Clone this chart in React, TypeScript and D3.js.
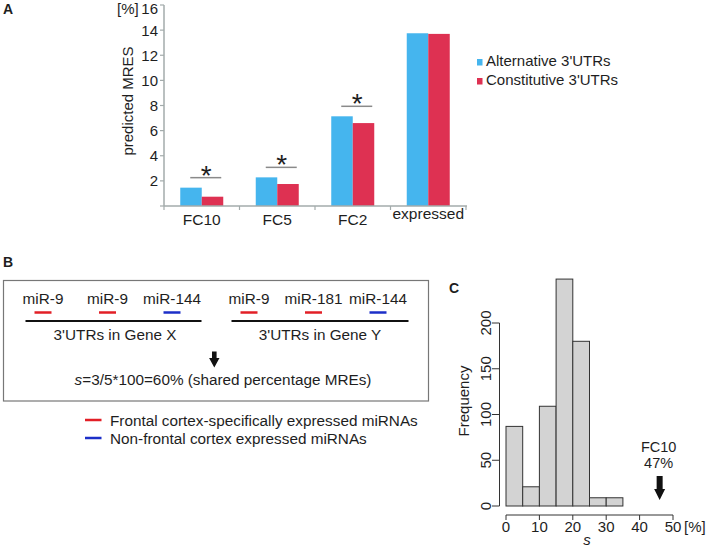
import React from "react";
import * as d3 from "d3";

// ---------- Panel A data ----------
const categories = ["FC10", "FC5", "FC2", "expressed"];
const alternative = [1.46, 2.28, 7.14, 13.75];
const constitutive = [0.74, 1.75, 6.6, 13.7];
const significant = [true, true, true, false];
const yTicksA = [2, 4, 6, 8, 10, 12, 14, 16];
const seriesNames = ["Alternative 3'UTRs", "Constitutive 3'UTRs"];

// ---------- Panel B data ----------
const geneXSites = ["miR-9", "miR-9", "miR-144"];
const geneXFrontal = [true, true, false];
const geneYSites = ["miR-9", "miR-181", "miR-144"];
const geneYFrontal = [true, true, false];
const legendB = ["Frontal cortex-specifically expressed miRNAs", "Non-frontal cortex expressed miRNAs"];

// ---------- Panel C data ----------
const binEdges = [0, 5, 10, 15, 20, 25, 30, 35];
const binCounts = [87, 21, 109, 248, 180, 9, 9];
const xTicksC = [0, 10, 20, 30, 40, 50];
const yTicksC = [0, 50, 100, 150, 200];
const markerValue = 46;

const BLUE = "#45b5ee";
const RED = "#de3152";
const TXT = "#1e1e1e";
const AX = "#a3abab";
const FONT = "'Liberation Sans', Arial, sans-serif";
const FSB = 15.3;

export default function App() {
  // Panel A scales
  const xA = d3.scaleBand().domain(categories).range([164, 466]).paddingInner(0).paddingOuter(0);
  const yA = d3.scaleLinear().domain([0, 16]).range([206, 5]);
  const barW = 21.5;

  // Panel C scales
  const xC = d3.scaleLinear().domain([0, 50]).range([506, 673]);
  const yC = d3.scaleLinear().domain([0, 200]).range([506, 323]);

  // Panel B positions via scale for site dashes
  const geneX = d3.scaleLinear().domain([0, 2]).range([43, 172]);
  const geneY = d3.scaleLinear().domain([0, 2]).range([249, 378]);

  return (
    <svg
      width={708}
      height={547}
      style={{ position: "absolute", left: 0, top: 0, background: "#fff" }}
      fontFamily={FONT}
    >
      <rect width={708} height={547} fill="#fff" />
      {/* Panel labels */}
      <text x={3} y={14} fontSize={14} fontWeight="bold" fill={TXT}>A</text>
      <text x={3} y={267} fontSize={14} fontWeight="bold" fill={TXT}>B</text>
      <text x={449} y={293} fontSize={14} fontWeight="bold" fill={TXT}>C</text>

      {/* ===== Panel A ===== */}
      {categories.map((c, i) => {
        const x0 = (xA(c) as number) + xA.bandwidth() / 2;
        const lineY = yA(Math.max(alternative[i], constitutive[i])) - 10;
        return (
          <g key={c}>
            <rect x={x0 - barW} y={yA(alternative[i])} width={barW} height={yA(0) - yA(alternative[i])} fill={BLUE} />
            <rect x={x0} y={yA(constitutive[i])} width={barW} height={yA(0) - yA(constitutive[i])} fill={RED} />
            {significant[i] && (
              <g>
                <line x1={x0 + 4 - 15.5} x2={x0 + 4 + 15.5} y1={lineY} y2={lineY} stroke="#8a8a8a" strokeWidth={1.5} />
                <text x={x0 + 4.5} y={lineY + 7} fontSize={28} textAnchor="middle" fill={TXT}>*</text>
              </g>
            )}
            <text
              x={x0}
              y={i === categories.length - 1 ? 219 : 225}
              fontSize={15.5}
              textAnchor="middle"
              fill={TXT}
            >{c}</text>
          </g>
        );
      })}
      {/* axes A */}
      <line x1={164} x2={164} y1={yA(16)} y2={yA(0)} stroke={AX} strokeWidth={1.5} />
      <line x1={164} x2={467} y1={yA(0)} y2={yA(0)} stroke={AX} strokeWidth={1.5} />
      {[0, ...yTicksA].map((t) => (
        <line key={"yt" + t} x1={160} x2={164} y1={yA(t)} y2={yA(t)} stroke={AX} strokeWidth={1.2} />
      ))}
      {d3.range(categories.length + 1).map((i) => (
        <line key={"xt" + i} x1={164 + i * xA.bandwidth()} x2={164 + i * xA.bandwidth()} y1={206} y2={210} stroke={AX} strokeWidth={1.2} />
      ))}
      {yTicksA.map((t) => (
        <text key={"yl" + t} x={158} y={yA(t) + (t === 16 ? 8.5 : 5.5)} fontSize={15} textAnchor="end" fill={TXT}>{t}</text>
      ))}
      <text x={117} y={yA(16) + 8.5} fontSize={15} fill={TXT}>[%]</text>
      <text transform="translate(133,101) rotate(-90)" fontSize={15} textAnchor="middle" fill={TXT}>predicted MRES</text>
      {/* legend A */}
      {seriesNames.map((s, i) => (
        <g key={s}>
          <rect x={477} y={59 + i * 19} width={5.5} height={6.5} fill={i === 0 ? BLUE : RED} />
          <text x={486} y={66 + i * 19} fontSize={15} fill={TXT}>{s}</text>
        </g>
      ))}

      {/* ===== Panel B ===== */}
      <rect x={3.5} y={280.5} width={425} height={120.5} fill="none" stroke="#777" strokeWidth={1.2} />
      {geneXSites.map((s, i) => (
        <g key={"gx" + i}>
          <text x={geneX(i)} y={304} fontSize={FSB} textAnchor="middle" fill={TXT}>{s}</text>
          <line x1={geneX(i) - 8.5} x2={geneX(i) + 8.5} y1={312.5} y2={312.5} stroke={geneXFrontal[i] ? "#e21f26" : "#1c2fc8"} strokeWidth={2.5} />
        </g>
      ))}
      {geneYSites.map((s, i) => (
        <g key={"gy" + i}>
          <text x={geneY(i)} y={304} fontSize={FSB} textAnchor="middle" fill={TXT}>{s}</text>
          <line x1={geneY(i) - 8.5} x2={geneY(i) + 8.5} y1={312.5} y2={312.5} stroke={geneYFrontal[i] ? "#e21f26" : "#1c2fc8"} strokeWidth={2.5} />
        </g>
      ))}
      <line x1={25.5} x2={201.5} y1={321} y2={321} stroke="#111" strokeWidth={2} />
      <line x1={231.5} x2={408.5} y1={321} y2={321} stroke="#111" strokeWidth={2} />
      <text x={115} y={340} fontSize={FSB} textAnchor="middle" fill={TXT}>3'UTRs in Gene X</text>
      <text x={320} y={340} fontSize={FSB} textAnchor="middle" fill={TXT}>3'UTRs in Gene Y</text>
      <path d="M212,351.5 H216.6 V358 H219.5 L214.3,367.5 L209.1,358 H212 Z" fill="#111" />
      <text x={223} y={385} fontSize={FSB} textAnchor="middle" fill={TXT}>
        <tspan fontStyle="italic">s</tspan>=3/5*100=60% (shared percentage MREs)
      </text>
      {legendB.map((s, i) => (
        <g key={s}>
          <line x1={85} x2={101.5} y1={420 + i * 18} y2={420 + i * 18} stroke={i === 0 ? "#e21f26" : "#1c2fc8"} strokeWidth={2.5} />
          <text x={110} y={426 + i * 18} fontSize={FSB} fill={TXT}>{s}</text>
        </g>
      ))}

      {/* ===== Panel C ===== */}
      {binCounts.map((c, i) => (
        <rect
          key={"h" + i}
          x={xC(binEdges[i])}
          y={yC(c)}
          width={xC(binEdges[i + 1]) - xC(binEdges[i])}
          height={yC(0) - yC(c)}
          fill="#d3d3d3"
          stroke="#333"
          strokeWidth={1}
        />
      ))}
      <line x1={499.5} x2={499.5} y1={yC(0)} y2={yC(200)} stroke="#333" strokeWidth={1} />
      {yTicksC.map((t) => (
        <g key={"yc" + t}>
          <line x1={492} x2={499.5} y1={yC(t)} y2={yC(t)} stroke="#333" strokeWidth={1} />
          <text transform={`translate(490.5,${yC(t)}) rotate(-90)`} fontSize={15} textAnchor="middle" fill={TXT}>{t}</text>
        </g>
      ))}
      <text transform="translate(469,401) rotate(-90)" fontSize={15} textAnchor="middle" fill={TXT}>Frequency</text>
      <line x1={xC(0)} x2={xC(50)} y1={515} y2={515} stroke="#333" strokeWidth={1} />
      {xTicksC.map((t) => (
        <g key={"xc" + t}>
          <line x1={xC(t)} x2={xC(t)} y1={515} y2={520} stroke="#333" strokeWidth={1} />
          <text x={xC(t)} y={532} fontSize={15} textAnchor="middle" fill={TXT}>{t}</text>
        </g>
      ))}
      <text x={684} y={532} fontSize={15} fill={TXT}>[%]</text>
      <text x={587} y={545} fontSize={15} fontStyle="italic" textAnchor="middle" fill={TXT}>s</text>
      <text x={xC(markerValue) - 1} y={451.5} fontSize={14.5} textAnchor="middle" fill={TXT}>FC10</text>
      <text x={xC(markerValue) - 1} y={467.5} fontSize={14.5} textAnchor="middle" fill={TXT}>47%</text>
      <path
        d={`M${xC(markerValue) - 3},476 H${xC(markerValue) + 3} V489 H${xC(markerValue) + 5.5} L${xC(markerValue)},500 L${xC(markerValue) - 5.5},489 H${xC(markerValue) - 3} Z`}
        fill="#111"
      />
    </svg>
  );
}
